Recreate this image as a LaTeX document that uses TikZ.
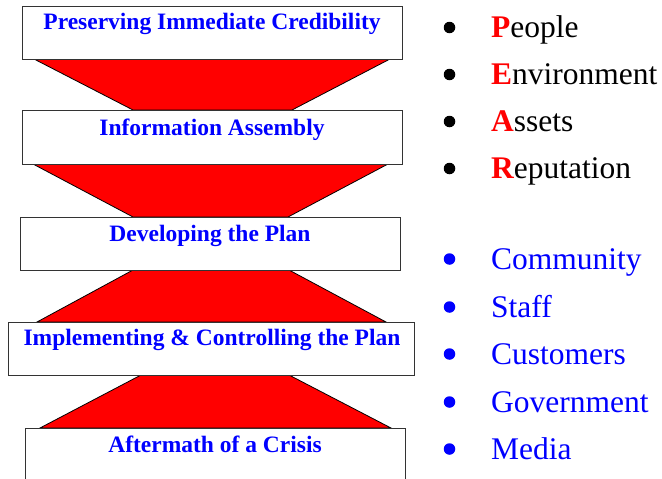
\documentclass[tikz,border=0pt]{standalone}
\usepackage{fontspec}
\setmainfont{Liberation Serif}
\definecolor{pblue}{RGB}{0,0,255}
\definecolor{pred}{RGB}{255,0,0}
\begin{document}
\begin{tikzpicture}[x=1pt,y=-1pt,
  stage/.style={draw=black!80,line width=1.2pt,fill=white,inner sep=0pt,anchor=north west},
  funnel/.style={fill=pred,draw=black,line width=0.8pt},
  stagetext/.style={anchor=base,inner sep=0pt,text=pblue,font=\fontsize{23.5}{28}\selectfont\bfseries},
  listitem/.style={anchor=base west,inner sep=0pt,font=\fontsize{31.5}{36}\selectfont},
  bul/.style={circle,fill=#1,inner sep=0pt,minimum size=11.5pt},
  bul/.default=black]
\clip (0,0) rectangle (662,479);
\fill[white] (0,0) rectangle (662,479);
% funnels
\draw[funnel] (34,59) -- (390,59) -- (292,110) -- (133,110) -- cycle;
\draw[funnel] (33,164) -- (388,164) -- (288,217) -- (133,217) -- cycle;
\draw[funnel] (133,270) -- (289,270) -- (386,322) -- (37,322) -- cycle;
\draw[funnel] (141,375) -- (289,375) -- (391,428) -- (40,428) -- cycle;
% stage boxes
\node[stage,minimum width=380pt,minimum height=53pt] (s1) at (22,6) {};
\node[stage,minimum width=380pt,minimum height=54pt] (s2) at (22,110) {};
\node[stage,minimum width=380pt,minimum height=53pt] (s3) at (20,217) {};
\node[stage,minimum width=406pt,minimum height=53pt] (s4) at (8,322) {};
\node[stage,minimum width=380pt,minimum height=70pt] (s5) at (25,428) {};
\node[stagetext] (t1) at (212,29.5) {Preserving Immediate Credibility};
\node[stagetext] (t2) at (212,135) {Information Assembly};
\node[stagetext] (t3) at (210,241) {Developing the Plan};
\node[stagetext] (t4) at (212,345) {Implementing \& Controlling the Plan};
\node[stagetext] (t5) at (215,452) {Aftermath of a Crisis};
% PEAR list
\node[bul] (p1) at (449.5,27.5) {};
\node[bul] (p2) at (449.5,74.5) {};
\node[bul] (p3) at (449.5,121.5) {};
\node[bul] (p4) at (449.5,168.5) {};
\node[listitem] (q1) at (491,37) {\textcolor{pred}{\bfseries P}eople};
\node[listitem] (q2) at (491,84) {\textcolor{pred}{\bfseries E}nvironment};
\node[listitem] (q3) at (491,131) {\textcolor{pred}{\bfseries A}ssets};
\node[listitem] (q4) at (491,178) {\textcolor{pred}{\bfseries R}eputation};
% stakeholders
\node[bul=pblue] (c1) at (449.5,259) {};
\node[bul=pblue] (c2) at (449.5,307) {};
\node[bul=pblue] (c3) at (449.5,354) {};
\node[bul=pblue] (c4) at (449.5,402) {};
\node[bul=pblue] (c5) at (449.5,449) {};
\node[listitem,text=pblue] (d1) at (491,269) {Community};
\node[listitem,text=pblue] (d2) at (491,317) {Staff};
\node[listitem,text=pblue] (d3) at (491,364) {Customers};
\node[listitem,text=pblue] (d4) at (491,412) {Government};
\node[listitem,text=pblue] (d5) at (491,459) {Media};
\end{tikzpicture}
\end{document}
